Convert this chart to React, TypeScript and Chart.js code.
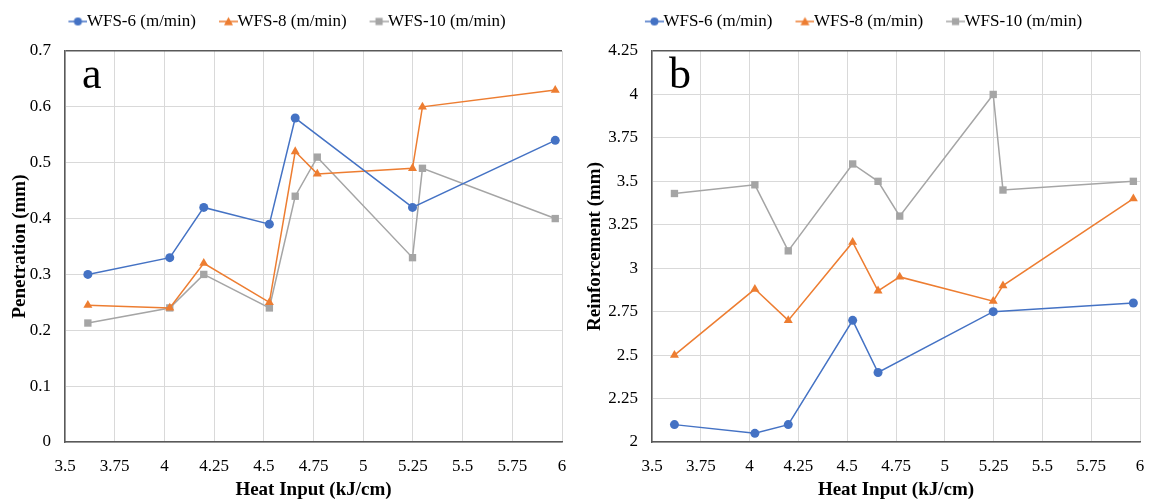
import React, { useEffect, useRef } from "react";
import { Chart, registerables } from "chart.js";

Chart.register(...registerables);

// ---------- data ----------
const heatInput = [3.615, 4.027, 4.198, 4.528, 4.658, 4.769, 5.248, 5.298, 5.966];
const heatInputWfs6 = [3.615, 4.027, 4.198, 4.528, 4.658, 5.248, 5.966];
const seriesNames = ["WFS-6 (m/min)", "WFS-8 (m/min)", "WFS-10 (m/min)"];

const penetrationWfs6 = [0.3, 0.33, 0.42, 0.39, 0.58, 0.42, 0.54];
const penetrationWfs8 = [0.245, 0.24, 0.32, 0.25, 0.52, 0.48, 0.49, 0.6, 0.63];
const penetrationWfs10 = [0.213, 0.24, 0.3, 0.24, 0.44, 0.51, 0.33, 0.49, 0.4];

const reinforcementWfs6 = [2.1, 2.05, 2.1, 2.7, 2.4, 2.75, 2.8];
const reinforcementWfs8 = [2.5, 2.88, 2.7, 3.15, 2.87, 2.95, 2.81, 2.9, 3.4];
const reinforcementWfs10 = [3.43, 3.48, 3.1, 3.6, 3.5, 3.3, 4.0, 3.45, 3.5];

const xTickValues = [3.5, 3.75, 4, 4.25, 4.5, 4.75, 5, 5.25, 5.5, 5.75, 6];
const xTickLabels = ["3.5", "3.75", "4", "4.25", "4.5", "4.75", "5", "5.25", "5.5", "5.75", "6"];
const penetrationTicks = [0, 0.1, 0.2, 0.3, 0.4, 0.5, 0.6, 0.7];
const penetrationTickLabels = ["0", "0.1", "0.2", "0.3", "0.4", "0.5", "0.6", "0.7"];
const reinforcementTicks = [2, 2.25, 2.5, 2.75, 3, 3.25, 3.5, 3.75, 4, 4.25];
const reinforcementTickLabels = ["2", "2.25", "2.5", "2.75", "3", "3.25", "3.5", "3.75", "4", "4.25"];

const xTitle = "Heat Input (kJ/cm)";
const penetrationTitle = "Penetration (mm)";
const reinforcementTitle = "Reinforcement (mm)";

// ---------- styles ----------
const FONT = "'Liberation Serif', 'Times New Roman', serif";
const COLORS = ["#4472C4", "#ED7D31", "#A5A5A5"];
const POINT_STYLES = ["circle", "triangle", "rect"];
const POINT_RADII = [4.5, 5.2, 5.2];
const GRID = "#d9d9d9";
const AXIS = "#595959";
const LEGEND_BOX = 26;
const LEGEND_ICON_W = 44;

function legendIcon(color: string, style: string): HTMLCanvasElement {
  const c = document.createElement("canvas");
  c.width = LEGEND_ICON_W;
  c.height = 14;
  const g = c.getContext("2d")!;
  const y = 7;
  const x1 = LEGEND_ICON_W;
  const x0 = x1 - 19;
  g.strokeStyle = color;
  g.lineWidth = 1.5;
  g.beginPath();
  g.moveTo(x0, y);
  g.lineTo(x1, y);
  g.stroke();
  g.fillStyle = color;
  const cx = (x0 + x1) / 2;
  g.beginPath();
  if (style === "circle") {
    g.arc(cx, y, 4, 0, Math.PI * 2);
  } else if (style === "triangle") {
    g.moveTo(cx - 4.5, y + 3.8);
    g.lineTo(cx + 4.5, y + 3.8);
    g.lineTo(cx, y - 4.5);
    g.closePath();
  } else {
    g.rect(cx - 3.6, y - 3.6, 7.2, 7.2);
  }
  g.fill();
  return c;
}

const panelLetter = {
  id: "panelLetter",
  afterDraw(chart: any, _args: any, opts: any) {
    const { ctx, chartArea } = chart;
    ctx.save();
    ctx.font = `44px ${FONT}`;
    ctx.fillStyle = "#000";
    ctx.textBaseline = "alphabetic";
    ctx.fillText(opts.text, chartArea.left + 17, chartArea.top + 37);
    ctx.restore();
  },
};

const legendSpacer = {
  id: "legendSpacer",
  beforeLayout(chart: any, _args: any, opts: any) {
    const lg = chart.legend;
    if (lg && !lg._patched) {
      const orig = lg.fit;
      lg.fit = function () {
        orig.call(this);
        this.height += opts.extra || 0;
      };
      lg._patched = true;
    }
  },
  afterLayout(chart: any, _args: any, opts: any) {
    const lg = chart.legend;
    if (lg && opts.shift) {
      lg.left += opts.shift;
      lg.right += opts.shift;
    }
  },
};

function labelFor(values: number[], labels: string[]) {
  return (v: number) => {
    const i = values.findIndex((t) => Math.abs(t - v) < 1e-9);
    return i >= 0 ? labels[i] : String(v);
  };
}

function buildDatasets(s6: number[], s8: number[], s10: number[]) {
  const xs = [heatInputWfs6, heatInput, heatInput];
  const ys = [s6, s8, s10];
  return ys.map((vals, i) => ({
    label: seriesNames[i],
    data: vals.map((v, j) => ({ x: xs[i][j], y: v })),
    borderColor: COLORS[i],
    backgroundColor: COLORS[i],
    pointBackgroundColor: COLORS[i],
    pointBorderColor: COLORS[i],
    pointStyle: POINT_STYLES[i],
    pointRadius: POINT_RADII[i],
    pointBorderWidth: 0,
    borderWidth: 1.5,
    tension: 0,
    fill: false,
  }));
}

function makeConfig(panel: "a" | "b"): any {
  const isA = panel === "a";
  const yTicks = isA ? penetrationTicks : reinforcementTicks;
  const yLabels = isA ? penetrationTickLabels : reinforcementTickLabels;
  const yMin = yTicks[0];
  const yMax = yTicks[yTicks.length - 1];
  const datasets = isA
    ? buildDatasets(penetrationWfs6, penetrationWfs8, penetrationWfs10)
    : buildDatasets(reinforcementWfs6, reinforcementWfs8, reinforcementWfs10);
  return {
    type: "line",
    data: { datasets },
    options: {
      animation: false,
      responsive: false,
      events: [],
      layout: { padding: { top: 6, right: isA ? 13 : 10, left: 0, bottom: 0 } },
      plugins: {
        tooltip: { enabled: false },
        panelLetter: { text: panel },
        legendSpacer: { extra: 11, shift: -2 },
        legend: {
          position: "top",
          labels: {
            font: { family: FONT, size: 17 },
            color: "#000",
            usePointStyle: true,
            pointStyleWidth: LEGEND_BOX,
            padding: 7,
            generateLabels: (chart: any) =>
              chart.data.datasets.map((ds: any, i: number) => ({
                text: ds.label,
                fillStyle: COLORS[i],
                strokeStyle: COLORS[i],
                lineWidth: 0,
                pointStyle: legendIcon(COLORS[i], POINT_STYLES[i]),
                datasetIndex: i,
                hidden: false,
                fontColor: "#000",
              })),
          },
        },
      },
      scales: {
        x: {
          type: "linear",
          min: 3.5,
          max: 6,
          afterBuildTicks: (scale: any) => {
            scale.ticks = xTickValues.map((v) => ({ value: v }));
          },
          afterFit: (scale: any) => {
            scale.height = 59;
            scale.paddingRight = 0;
            scale.paddingLeft = 0;
          },
          ticks: {
            autoSkip: false,
            maxRotation: 0,
            padding: 14,
            color: "#000",
            font: { family: FONT, size: 17 },
            callback: labelFor(xTickValues, xTickLabels),
          },
          grid: { color: GRID, lineWidth: 1, drawTicks: false },
          border: { color: AXIS, width: 1.5 },
          title: {
            display: true,
            text: xTitle,
            color: "#000",
            font: { family: FONT, size: 19, weight: "bold" },
            padding: { top: 0, bottom: 0 },
          },
        },
        y: {
          type: "linear",
          min: yMin,
          max: yMax,
          afterBuildTicks: (scale: any) => {
            scale.ticks = yTicks.map((v) => ({ value: v }));
          },
          afterFit: (scale: any) => {
            scale.width = isA ? 65 : 77;
          },
          ticks: {
            padding: 14,
            color: "#000",
            font: { family: FONT, size: 17 },
            callback: labelFor(yTicks, yLabels),
          },
          grid: {
            color: (ctx: any) => (ctx.tick && ctx.tick.value === yMax ? AXIS : GRID),
            lineWidth: (ctx: any) => (ctx.tick && ctx.tick.value === yMax ? 1.5 : 1),
            drawTicks: false,
          },
          border: { color: AXIS, width: 1.5 },
          title: {
            display: true,
            text: isA ? penetrationTitle : reinforcementTitle,
            color: "#000",
            font: { family: FONT, size: 19, weight: "bold" },
            padding: { top: 9, bottom: 0 },
          },
        },
      },
    },
    plugins: [panelLetter, legendSpacer],
  };
}

function Panel({ panel }: { panel: "a" | "b" }) {
  const ref = useRef<HTMLCanvasElement | null>(null);
  useEffect(() => {
    if (!ref.current) return;
    const chart = new Chart(ref.current, makeConfig(panel));
    return () => chart.destroy();
  }, [panel]);
  return <canvas ref={ref} width={575} height={501} style={{ display: "block" }} />;
}

export default function App() {
  return (
    <div
      style={{
        position: "fixed",
        left: 0,
        top: 0,
        width: 1150,
        height: 501,
        display: "flex",
        background: "#fff",
      }}
    >
      <Panel panel="a" />
      <Panel panel="b" />
    </div>
  );
}
